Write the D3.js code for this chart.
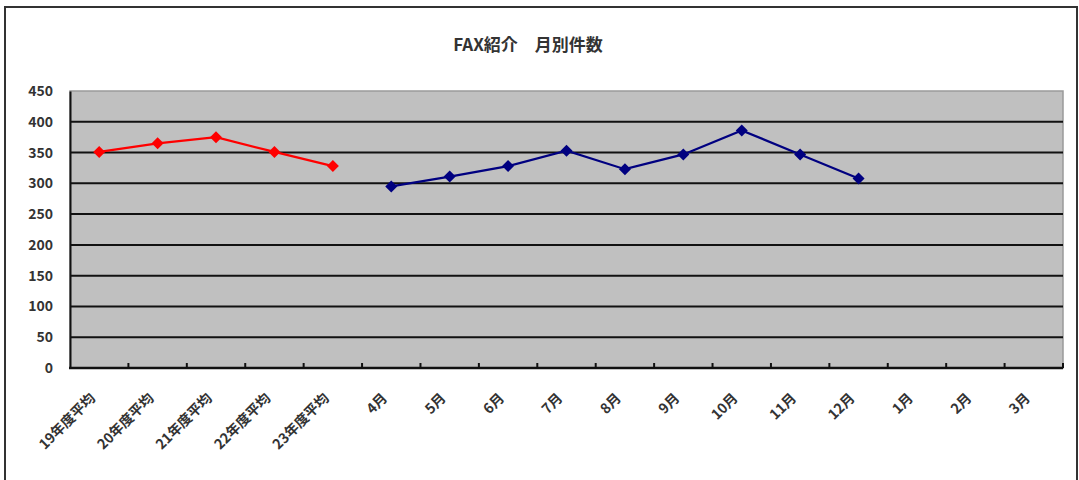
<!DOCTYPE html>
<html>
<head>
<meta charset="utf-8">
<script src="https://cdn.jsdelivr.net/npm/d3@7"></script>
<style>
  body { margin: 0; background: #fff; }
  text { font-family: "Noto Sans CJK JP", "DejaVu Sans", sans-serif; }
</style>
</head>
<body>
<div id="chart"></div>
<script>

// categories on the x axis
var categories = ["19年度平均", "20年度平均", "21年度平均", "22年度平均", "23年度平均",
  "4月", "5月", "6月", "7月", "8月", "9月", "10月", "11月", "12月", "1月", "2月", "3月"];

// yearly averages (red) and this year's months (navy)
var avgCats = ["19年度平均", "20年度平均", "21年度平均", "22年度平均", "23年度平均"];
var avgValues = [351, 365, 375, 351, 328];

var monthCats = ["4月", "5月", "6月", "7月", "8月", "9月", "10月", "11月", "12月"];
var monthValues = [295, 311, 328, 353, 323, 347, 386, 347, 308];

var yTicks = [0, 50, 100, 150, 200, 250, 300, 350, 400, 450];
var title = "FAX紹介　月別件数";

var W = 1079, H = 480;
var plot = {left: 70, right: 1063, top: 91, bottom: 368};

var svg = d3.select("#chart")
  .append("svg")
    .attr("width", W)
    .attr("height", H);

// outer frame
svg.append("rect")
  .attr("x", 5)
  .attr("y", 7)
  .attr("width", 1072)
  .attr("height", 490)
  .attr("fill", "#fff")
  .attr("stroke", "#333")
  .attr("stroke-width", 2);

svg.append("text")
  .attr("x", 528)
  .attr("y", 51)
  .attr("text-anchor", "middle")
  .style("font-size", "17px")
  .style("font-weight", "bold")
  .style("fill", "#333")
  .text(title);

var x = d3.scaleBand()
  .domain(categories)
  .range([plot.left, plot.right]);

var y = d3.scaleLinear()
  .domain([0, 450])
  .range([plot.bottom, plot.top]);

// plot background
svg.append("rect")
  .attr("x", plot.left)
  .attr("y", plot.top)
  .attr("width", plot.right - plot.left)
  .attr("height", plot.bottom - plot.top)
  .attr("fill", "#c0c0c0")
  .attr("stroke", "#9a9a9a")
  .attr("stroke-width", 1.5);

// gridlines
svg.append("g")
  .selectAll("line")
  .data(yTicks.filter(function(d) { return d > 0 && d < 450; }))
  .enter().append("line")
    .attr("x1", plot.left)
    .attr("x2", plot.right)
    .attr("y1", function(d) { return y(d); })
    .attr("y2", function(d) { return y(d); })
    .attr("stroke", "#111")
    .attr("stroke-width", 2);

// y axis
var yAxis = svg.append("g")
  .attr("transform", "translate(" + plot.left + ",0)")
  .call(d3.axisLeft(y).tickValues(yTicks).tickSize(0).tickPadding(17));
yAxis.select(".domain")
  .attr("stroke", "#111")
  .attr("stroke-width", 2);
yAxis.selectAll("text")
  .style("font-size", "14px")
  .style("font-weight", "bold")
  .style("fill", "#333");

// x axis: ticks between categories, pointing up
var xAxis = svg.append("g");
xAxis.append("line")
  .attr("x1", plot.left - 1)
  .attr("x2", plot.right)
  .attr("y1", plot.bottom)
  .attr("y2", plot.bottom)
  .attr("stroke", "#111")
  .attr("stroke-width", 2.5);
xAxis.selectAll(".tk")
  .data(categories.slice(1))
  .enter().append("line")
    .attr("class", "tk")
    .attr("x1", function(d) { return x(d); })
    .attr("x2", function(d) { return x(d); })
    .attr("y1", plot.bottom)
    .attr("y2", plot.bottom - 5)
    .attr("stroke", "#111")
    .attr("stroke-width", 2);
xAxis.append("line")
  .attr("x1", plot.right)
  .attr("x2", plot.right)
  .attr("y1", plot.bottom)
  .attr("y2", plot.bottom - 5)
  .attr("stroke", "#111")
  .attr("stroke-width", 2);

xAxis.selectAll(".lbl")
  .data(categories)
  .enter().append("text")
    .attr("class", "lbl")
    .attr("text-anchor", "end")
    .attr("transform", function(d) {
      return "translate(" + (x(d) + x.bandwidth() / 2 - 3) + "," + (plot.bottom + 31) + ")rotate(-45)";
    })
    .style("font-size", "14px")
    .style("font-weight", "bold")
    .style("fill", "#333")
    .text(function(d) { return d; });

var line = d3.line()
  .x(function(d) { return x(d.c) + x.bandwidth() / 2; })
  .y(function(d) { return y(d.v); });

// square turned 45 degrees = even diamond
var diamond = d3.symbol().type(d3.symbolSquare).size(72);

function drawSeries(cats, vals, color) {
  var pts = cats.map(function(c, i) { return {c: c, v: vals[i]}; });
  svg.append("path")
    .datum(pts)
    .attr("fill", "none")
    .attr("stroke", color)
    .attr("stroke-width", 2.2)
    .attr("d", line);
  svg.append("g")
    .selectAll("path")
    .data(pts)
    .enter().append("path")
      .attr("d", diamond)
      .attr("transform", function(d) {
        return "translate(" + (x(d.c) + x.bandwidth() / 2) + "," + y(d.v) + ")rotate(45)";
      })
      .attr("fill", color);
}

drawSeries(avgCats, avgValues, "#ff0000");
drawSeries(monthCats, monthValues, "#000080");

</script>
</body>
</html>
